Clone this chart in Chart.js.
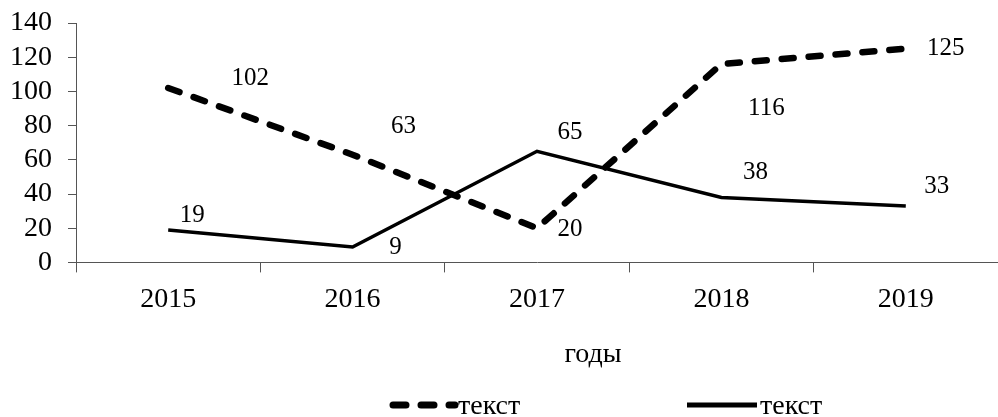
<!DOCTYPE html>
<html>
<head>
<meta charset="utf-8">
<script src="https://cdn.jsdelivr.net/npm/chart.js@4.4.1/dist/chart.umd.min.js"></script>
<style>
    html, body { margin: 0; padding: 0; background: #fff; overflow: hidden; }
    #wrap { width: 998px; height: 417px; position: relative; }
</style>
</head>
<body>
<div id="wrap"><canvas id="lineChart"></canvas></div>
<script>
// Chart data
const years = ['2015', '2016', '2017', '2018', '2019'];
const dashedValues = [102, 63, 20, 116, 125];
const solidValues = [19, 9, 65, 38, 33];
const seriesNames = ['текст', 'текст'];
const axisTitle = 'годы';

const FONT = '"Liberation Serif", "Times New Roman", serif';

// Value labels, shifted from their points the way the original has them
const valueLabels = {
    id: 'valueLabels',
    afterDatasetsDraw(chart, args, opts) {
        const ctx = chart.ctx;
        ctx.save();
        ctx.font = '25px ' + FONT;
        ctx.fillStyle = '#000';
        ctx.textAlign = 'center';
        ctx.textBaseline = 'middle';
        chart.data.datasets.forEach((ds, i) => {
            chart.getDatasetMeta(i).data.forEach((pt, j) => {
                const shift = opts.shifts[i][j];
                ctx.fillText(ds.data[j], pt.x + shift[0], pt.y + shift[1]);
            });
        });
        ctx.restore();
    }
};

// Axis title and legend drawn below the x axis
const bottomTexts = {
    id: 'bottomTexts',
    afterDraw(chart) {
        const ctx = chart.ctx;
        ctx.save();
        ctx.font = '28px ' + FONT;
        ctx.fillStyle = '#000';
        ctx.textAlign = 'center';
        ctx.textBaseline = 'alphabetic';
        ctx.fillText(axisTitle, 593, 362);

        const items = [
            { x: 390, w: 65, width: 7, dash: [13, 15] },
            { x: 687, w: 70, width: 5, dash: [] }
        ];
        items.forEach((it, i) => {
            ctx.beginPath();
            ctx.lineWidth = it.width;
            ctx.lineCap = it.dash.length ? 'round' : 'butt';
            ctx.setLineDash(it.dash);
            ctx.strokeStyle = '#000';
            ctx.moveTo(it.x + (it.dash.length ? 3 : 0), 405);
            ctx.lineTo(it.x + it.w, 405);
            ctx.stroke();
            ctx.setLineDash([]);
            ctx.textAlign = 'left';
            ctx.fillText(seriesNames[i], it.x + it.w + 3, 414);
        });
        ctx.restore();
    }
};

function initChart() {
    const ctx = document.getElementById('lineChart').getContext('2d');
    new Chart(ctx, {
        type: 'line',
        data: {
            labels: years,
            datasets: [{
                label: seriesNames[0],
                data: dashedValues,
                borderColor: '#000',
                borderWidth: 6.5,
                borderDash: [12, 15],
                borderCapStyle: 'round',
                pointRadius: 0,
                tension: 0
            }, {
                label: seriesNames[1],
                data: solidValues,
                borderColor: '#000',
                borderWidth: 3.5,
                pointRadius: 0,
                tension: 0
            }]
        },
        options: {
            responsive: true,
            maintainAspectRatio: false,
            animation: false,
            layout: {
                padding: { left: -6, right: 0, top: 23, bottom: 91 }
            },
            plugins: {
                legend: { display: false },
                tooltip: { enabled: false },
                valueLabels: {
                    shifts: [
                        [[82, -10], [51, -28], [33, 1], [45, 44], [40, 0]],
                        [[24, -14], [43, 0], [33, -19], [34, -25], [31, -20]]
                    ]
                }
            },
            scales: {
                x: {
                    offset: true,
                    grid: {
                        offset: true,
                        drawOnChartArea: false,
                        tickLength: 10,
                        color: '#555'
                    },
                    border: { color: '#555', width: 1 },
                    ticks: {
                        color: '#000',
                        padding: 10,
                        font: { family: FONT, size: 28 }
                    }
                },
                y: {
                    min: 0,
                    max: 140,
                    grid: {
                        drawOnChartArea: false,
                        tickLength: 8,
                        color: '#555'
                    },
                    border: { color: '#555', width: 1 },
                    ticks: {
                        stepSize: 20,
                        autoSkip: false,
                        color: '#000',
                        padding: 16,
                        font: { family: FONT, size: 28, lineHeight: 0.5 }
                    }
                }
            }
        },
        plugins: [valueLabels, bottomTexts]
    });
}

document.addEventListener('DOMContentLoaded', initChart);
</script>
</body>
</html>
